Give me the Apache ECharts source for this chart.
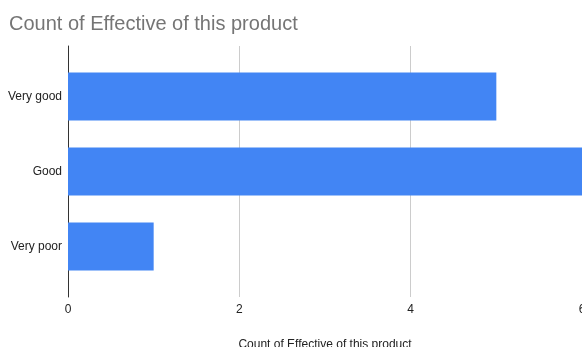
<!DOCTYPE html>
<html><head><meta charset="utf-8">
<script src="https://cdn.jsdelivr.net/npm/echarts@6/dist/echarts.min.js"></script>
<style>html,body{margin:0;padding:0;background:#fff}#c{width:582px;height:347px}</style>
</head><body><div id="c"></div>
<script>
const titleText = 'Count of Effective of this product';
const categories = ['Very good', 'Good', 'Very poor'];
const counts = [5, 6, 1];
const xMin = 0, xMax = 6, xInterval = 2;
const axisName = 'Count of Effective of this product';

const chart = echarts.init(document.getElementById('c'), null, {renderer: 'canvas'});
const font = 'Arial, "Liberation Sans", sans-serif';
chart.setOption({
  animation: false,
  backgroundColor: '#fff',
  title: {text: titleText, left: 4, top: 9, textStyle: {fontFamily: font, fontSize: 20, fontWeight: 'normal', color: '#757575'}},
  grid: [
    {left: 68, right: 0, top: 59, height: 225, containLabel: false, outerBoundsMode: 'none'},
    {left: 68, right: 0, top: 46, bottom: 50, containLabel: false, outerBoundsMode: 'none'}
  ],
  xAxis: [
    {gridIndex: 0, type: 'value', min: xMin, max: xMax, interval: xInterval, show: false},
    {gridIndex: 1, type: 'value', min: xMin, max: xMax, interval: xInterval,
     axisLine: {show: false}, axisTick: {show: false},
     splitLine: {show: true, lineStyle: {color: '#cccccc', width: 1}},
     axisLabel: {margin: 7, fontFamily: font, fontSize: 12, color: '#222'},
     name: axisName, nameLocation: 'middle', nameGap: 42,
     nameTextStyle: {fontFamily: font, fontSize: 12, color: '#222'}}
  ],
  yAxis: [
    {gridIndex: 0, type: 'category', data: categories, inverse: true,
     axisLine: {show: false}, axisTick: {show: false}, splitLine: {show: false},
     axisLabel: {margin: 6, fontFamily: font, fontSize: 12, color: '#222'}},
    {gridIndex: 1, type: 'category', data: categories, inverse: true,
     axisLine: {show: true, lineStyle: {color: '#333', width: 1}},
     axisTick: {show: false}, axisLabel: {show: false}, splitLine: {show: false}}
  ],
  series: [{
    type: 'bar', xAxisIndex: 0, yAxisIndex: 0, data: counts, barWidth: 48,
    itemStyle: {color: '#4285F4'}
  }]
});
</script></body></html>
